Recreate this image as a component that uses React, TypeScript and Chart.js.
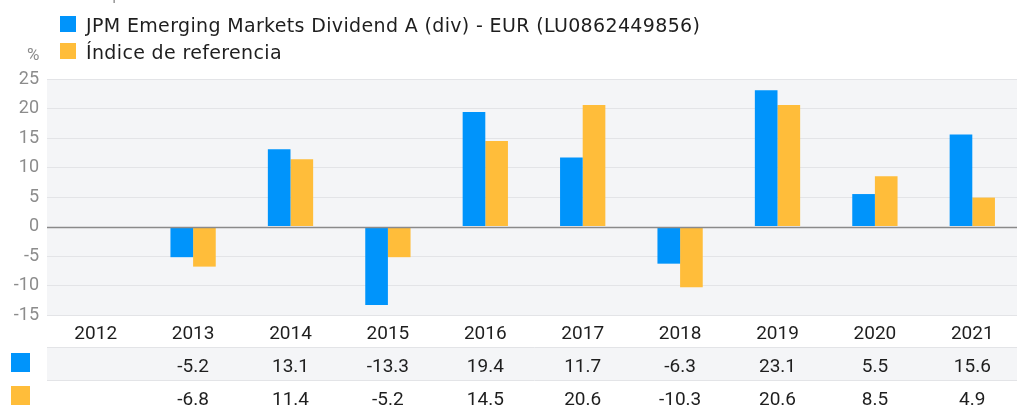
import React, { useEffect, useRef } from 'react';
import { Chart, registerables } from 'chart.js';

Chart.register(...registerables);

const years = ['2012', '2013', '2014', '2015', '2016', '2017', '2018', '2019', '2020', '2021'];
const fundLabel = 'JPM Emerging Markets Dividend A (div) - EUR (LU0862449856)';
const indexLabel = 'Índice de referencia';
const fundValues: (number | null)[] = [null, -5.2, 13.1, -13.3, 19.4, 11.7, -6.3, 23.1, 5.5, 15.6];
const indexValues: (number | null)[] = [null, -6.8, 11.4, -5.2, 14.5, 20.6, -10.3, 20.6, 8.5, 4.9];
const yMin = -15;
const yMax = 25;
const yStep = 5;
const unitLabel = '%';
const titleText = 'Rentabilidad por año natural';

const FONT = 'Roboto, "Noto Sans", sans-serif';
const LEGEND_FONT = '"DejaVu Sans", Roboto, sans-serif';
const BLUE = '#0094fb';
const ORANGE = '#ffbd3a';
const PLOT_BG = '#f4f5f7';
const GRID = '#e3e4e7';
const TEXT = '#1e1e1e';
const MUTED = '#8c8c8c';

const decorPlugin = {
  id: 'decor',
  beforeDraw(chart: any) {
    const { ctx, chartArea } = chart;
    const w = chart.width;
    ctx.save();
    ctx.fillStyle = PLOT_BG;
    ctx.fillRect(chartArea.left, chartArea.top, chartArea.right - chartArea.left, chartArea.bottom - chartArea.top);
    // table row 1 background
    ctx.fillRect(chartArea.left, 347, w - chartArea.left, 33);
    ctx.strokeStyle = GRID;
    ctx.lineWidth = 1;
    [347.5, 380.5].forEach((y) => {
      ctx.beginPath();
      ctx.moveTo(chartArea.left, y);
      ctx.lineTo(w, y);
      ctx.stroke();
    });
    ctx.restore();
  },
  afterDatasetsDraw(chart: any) {
    const { ctx, chartArea, scales } = chart;
    const yZero = Math.round(scales.y.getPixelForValue(0)) + 0.5;
    ctx.save();
    ctx.strokeStyle = '#8a8a8a';
    ctx.lineWidth = 1.3;
    ctx.beginPath();
    ctx.moveTo(chartArea.left, yZero);
    ctx.lineTo(chartArea.right, yZero);
    ctx.stroke();
    ctx.restore();
  },
  afterDraw(chart: any) {
    const { ctx, scales } = chart;
    const xs = scales.x;
    ctx.save();
    // title (cut off at top)
    ctx.fillStyle = '#9a9a9a';
    ctx.font = `17px ${FONT}`;
    ctx.textAlign = 'left';
    ctx.textBaseline = 'alphabetic';
    ctx.fillText(titleText, 14, 0);

    // legend
    const ds = chart.data.datasets;
    const legendRows = [32, 59];
    ds.forEach((d: any, i: number) => {
      ctx.fillStyle = d.backgroundColor;
      ctx.fillRect(60, legendRows[i] - 16, 16, 16);
      ctx.fillStyle = TEXT;
      ctx.font = `19px ${LEGEND_FONT}`;
      (ctx as any).letterSpacing = '0.35px';
      ctx.fillText(d.label, 86, legendRows[i]);
      (ctx as any).letterSpacing = '0px';
    });

    // unit label
    ctx.fillStyle = MUTED;
    ctx.font = `17px ${FONT}`;
    ctx.fillText(unitLabel, 27, 60);

    // x labels
    ctx.fillStyle = TEXT;
    ctx.font = `19px ${FONT}`;
    ctx.textAlign = 'center';
    years.forEach((y, i) => {
      ctx.fillText(y, xs.getPixelForValue(i), 339);
    });

    // table
    const rowBase = [372, 405];
    ctx.font = `19px ${FONT}`;
    ds.forEach((d: any, r: number) => {
      ctx.fillStyle = d.backgroundColor;
      ctx.fillRect(11, rowBase[r] - 19, 19, 19);
      ctx.fillStyle = TEXT;
      d.data.forEach((v: number | null, i: number) => {
        if (v === null || v === undefined) return;
        ctx.fillText(v.toFixed(1), xs.getPixelForValue(i), rowBase[r]);
      });
    });
    ctx.restore();
  },
};

export default function App() {
  const ref = useRef<HTMLCanvasElement | null>(null);
  useEffect(() => {
    if (!ref.current) return;
    const chart = new Chart(ref.current, {
      type: 'bar',
      data: {
        labels: years,
        datasets: [
          { label: fundLabel, data: fundValues, backgroundColor: BLUE, categoryPercentage: 0.465, barPercentage: 1 },
          { label: indexLabel, data: indexValues, backgroundColor: ORANGE, categoryPercentage: 0.465, barPercentage: 1 },
        ],
      },
      options: {
        responsive: false,
        maintainAspectRatio: false,
        animation: false,
        devicePixelRatio: 1,
        layout: { padding: { top: 79, bottom: 93, left: 0, right: 1 } },
        plugins: { legend: { display: false }, tooltip: { enabled: false } },
        scales: {
          x: {
            display: false,
            grid: { display: false },
          },
          y: {
            min: yMin,
            max: yMax,
            afterFit: (s: any) => { s.width = 47; },
            border: { display: false },
            grid: {
              drawTicks: false,
              color: (c: any) => (c.tick && c.tick.value === 0 ? 'rgba(0,0,0,0)' : GRID),
              lineWidth: 1,
            },
            ticks: {
              stepSize: yStep,
              padding: 8,
              color: MUTED,
              font: { family: FONT, size: 18 },
            },
          },
        },
      },
      plugins: [decorPlugin],
    });
    return () => chart.destroy();
  }, []);
  return (
    <div style={{ position: 'absolute', left: 0, top: 0, width: 1017, height: 408, overflow: 'hidden', background: '#fff' }}>
      <canvas ref={ref} width={1022} height={408} style={{ width: 1022, height: 408, display: 'block' }} />
    </div>
  );
}
